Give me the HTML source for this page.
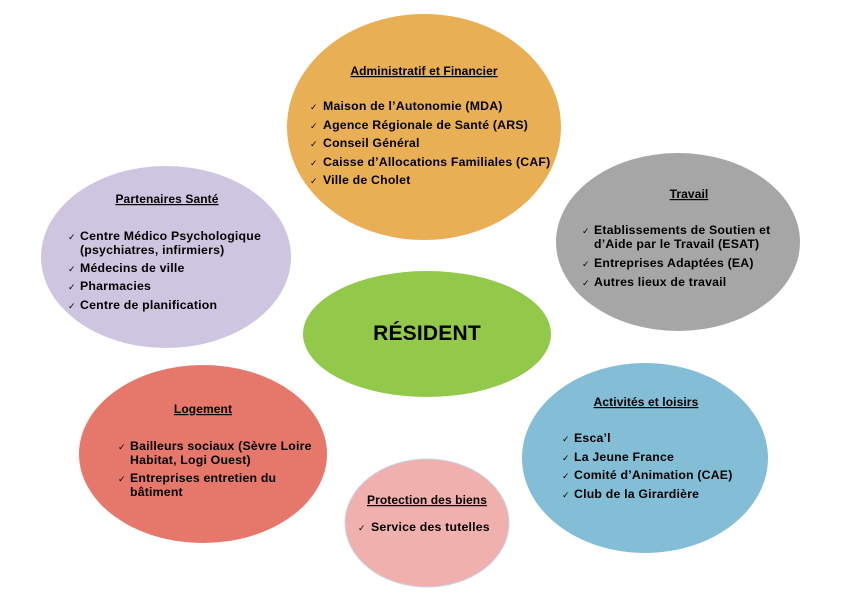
<!DOCTYPE html>
<html><head><meta charset="utf-8"><style>
html,body{margin:0;padding:0;background:#fff;}
svg{display:block;}
text{font-family:"Liberation Sans",sans-serif;font-weight:bold;font-size:12.3px;fill:#000;letter-spacing:0.2px;}
.t{text-decoration:underline;font-size:12px;letter-spacing:0.1px;}
.c{font-size:9px;font-weight:normal;}
</style></head><body>
<svg width="845" height="600" viewBox="0 0 845 600" xmlns="http://www.w3.org/2000/svg">
<ellipse cx="424" cy="127" rx="137" ry="113" fill="#E8AF55"/>
<ellipse cx="166" cy="257" rx="125" ry="91" fill="#CEC6E0"/>
<ellipse cx="678" cy="242" rx="122" ry="89" fill="#A6A6A6"/>
<ellipse cx="427" cy="334" rx="124" ry="63" fill="#92C94A"/>
<ellipse cx="203" cy="454" rx="124" ry="89" fill="#E5786B"/>
<ellipse cx="645" cy="458" rx="123" ry="95" fill="#83BED6"/>
<ellipse cx="427" cy="523" rx="82" ry="64" fill="#F0B0AE" stroke="#c9d6e6" stroke-width="1"/>

<text class="t" x="424" y="75" text-anchor="middle">Administratif et Financier</text>
<text class="c" x="310" y="110">✓</text><text x="323" y="110">Maison de l’Autonomie (MDA)</text>
<text class="c" x="310" y="129">✓</text><text x="323" y="129">Agence Régionale de Santé (ARS)</text>
<text class="c" x="310" y="147">✓</text><text x="323" y="147">Conseil Général</text>
<text class="c" x="310" y="166">✓</text><text x="323" y="166">Caisse d’Allocations Familiales (CAF)</text>
<text class="c" x="310" y="184">✓</text><text x="323" y="184">Ville de Cholet</text>

<text class="t" x="167" y="203" text-anchor="middle">Partenaires  Santé</text>
<text class="c" x="68" y="240">✓</text><text x="80" y="240">Centre Médico Psychologique</text>
<text x="80" y="254">(psychiatres, infirmiers)</text>
<text class="c" x="68" y="272">✓</text><text x="80" y="272">Médecins de ville</text>
<text class="c" x="68" y="290">✓</text><text x="80" y="290">Pharmacies</text>
<text class="c" x="68" y="309">✓</text><text x="80" y="309">Centre de planification</text>

<text class="t" x="689" y="198" text-anchor="middle">Travail</text>
<text class="c" x="582" y="234">✓</text><text x="594" y="234">Etablissements de Soutien et</text>
<text x="594" y="248">d’Aide par le Travail (ESAT)</text>
<text class="c" x="582" y="267">✓</text><text x="594" y="267">Entreprises Adaptées (EA)</text>
<text class="c" x="582" y="286">✓</text><text x="594" y="286">Autres lieux de travail</text>

<text x="427" y="340" text-anchor="middle" style="font-size:21px">RÉSIDENT</text>

<text class="t" x="203" y="413" text-anchor="middle">Logement</text>
<text class="c" x="118" y="450">✓</text><text x="130" y="450">Bailleurs sociaux (Sèvre Loire</text>
<text x="130" y="464">Habitat, Logi Ouest)</text>
<text class="c" x="118" y="482">✓</text><text x="130" y="482">Entreprises entretien du</text>
<text x="130" y="496">bâtiment</text>

<text class="t" x="646" y="406" text-anchor="middle">Activités et loisirs</text>
<text class="c" x="562" y="442">✓</text><text x="574" y="442">Esca’l</text>
<text class="c" x="562" y="461">✓</text><text x="574" y="461">La Jeune France</text>
<text class="c" x="562" y="479">✓</text><text x="574" y="479">Comité d’Animation (CAE)</text>
<text class="c" x="562" y="498">✓</text><text x="574" y="498">Club de la Girardière</text>

<text class="t" x="427" y="504" text-anchor="middle">Protection des biens</text>
<text class="c" x="358" y="531">✓</text><text x="371" y="531">Service des tutelles</text>
</svg>
</body></html>
